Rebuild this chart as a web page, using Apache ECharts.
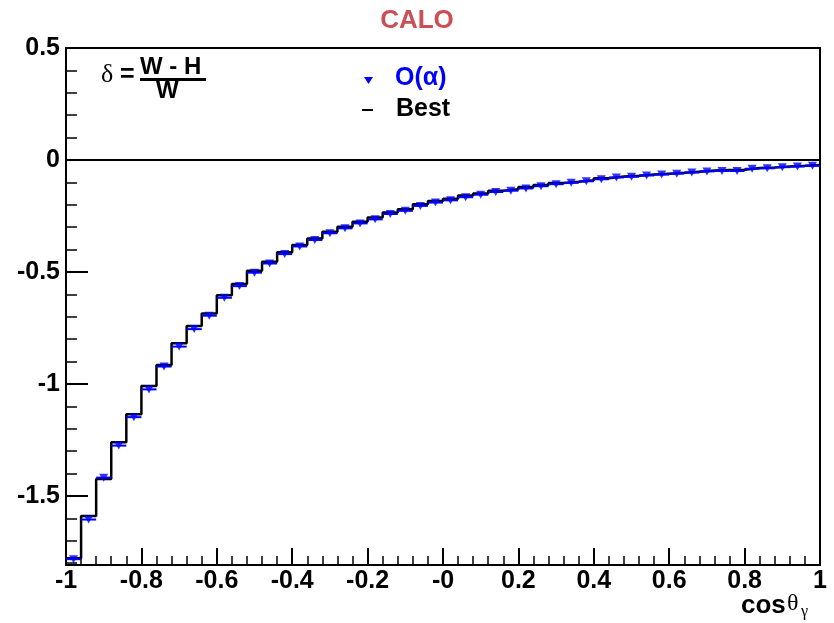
<!DOCTYPE html>
<html><head><meta charset="utf-8">
<script src="https://cdn.jsdelivr.net/npm/echarts@6/dist/echarts.min.js"></script>
<style>html,body{margin:0;padding:0;background:#fff}#c{width:834px;height:623px}</style>
</head><body><div id="c"></div>
<script>
// Histogram binning: 50 bins of width 0.04 from -1 to 1
const binLow = -1;
const binWidth = 0.04;
// "Best" histogram contents (delta per bin)
const bestValues = [
  -1.778, -1.589, -1.424, -1.260, -1.135, -1.009, -0.915, -0.818, -0.741, -0.685,
  -0.604, -0.554, -0.494, -0.454, -0.412, -0.379, -0.350, -0.320, -0.298, -0.276,
  -0.257, -0.234, -0.220, -0.198, -0.183, -0.173, -0.159, -0.149, -0.137, -0.131,
  -0.121, -0.112, -0.103, -0.097, -0.090, -0.081, -0.074, -0.070, -0.065, -0.061,
  -0.057, -0.052, -0.047, -0.045, -0.043, -0.036, -0.033, -0.029, -0.026, -0.022
];
// "O(alpha)" points (delta per bin)
const oAlphaValues = [
  -1.782, -1.605, -1.418, -1.275, -1.148, -1.024, -0.922, -0.833, -0.755, -0.695,
  -0.615, -0.563, -0.503, -0.462, -0.420, -0.386, -0.357, -0.327, -0.305, -0.283,
  -0.265, -0.241, -0.227, -0.205, -0.190, -0.180, -0.166, -0.155, -0.143, -0.137,
  -0.127, -0.117, -0.108, -0.102, -0.095, -0.086, -0.078, -0.075, -0.069, -0.065,
  -0.061, -0.056, -0.051, -0.049, -0.049, -0.039, -0.037, -0.032, -0.029, -0.026
];
const xTickLabels = ['-1', '-0.8', '-0.6', '-0.4', '-0.2', '-0', '0.2', '0.4', '0.6', '0.8', '1'];
const yTickValues = [-1.5, -1, -0.5, 0, 0.5];
const yTickLabels = ['-1.5', '-1', '-0.5', '0', '0.5'];
const yMinorTickValues = [-1.8, -1.7, -1.6, -1.4, -1.3, -1.2, -1.1, -0.9, -0.8, -0.7, -0.6,
  -0.4, -0.3, -0.2, -0.1, 0.1, 0.2, 0.3, 0.4];
const yMin = -1.808, yMax = 0.5;

const FONT = "'Liberation Sans', Arial, Helvetica, sans-serif";
const SERIF = "'Liberation Serif', 'DejaVu Serif', serif";

const bestData = bestValues.map((v, i) => [binLow + i * binWidth, v]);
bestData.push([binLow + bestValues.length * binWidth, bestValues[bestValues.length - 1]]);
const pointData = oAlphaValues.map((v, i) => [binLow + (i + 0.5) * binWidth, v]);

const chart = echarts.init(document.getElementById('c'), null, {renderer: 'canvas'});

function txt(x, y, text, opts) {
  return Object.assign({
    type: 'text', x: x, y: y, silent: true, z: 100,
    style: Object.assign({
      text: text, fill: '#000', align: 'left', textAlign: 'left',
      verticalAlign: 'top', textVerticalAlign: 'top',
      fontFamily: FONT, fontWeight: 'bold', fontSize: 24
    }, opts || {})
  });
}

const option = {
  animation: false,
  backgroundColor: '#fff',
  title: {
    text: 'CALO', left: 'center', top: 3,
    textStyle: {color: '#cc4f55', fontFamily: FONT, fontWeight: 'bold', fontSize: 26}
  },
  grid: {left: 66, right: 14, top: 48, bottom: 58, show: true, borderColor: '#000', borderWidth: 2, backgroundColor: 'transparent'},
  xAxis: {
    type: 'value', min: -1, max: 1, interval: 0.2,
    axisLine: {show: true, onZero: false, lineStyle: {color: '#000', width: 2}},
    axisTick: {show: true, inside: true, length: 17, lineStyle: {color: '#000', width: 2}},
    minorTick: {show: true, splitNumber: 5, length: 9, lineStyle: {color: '#000', width: 1.5}},
    splitLine: {show: false},
    axisLabel: {
      margin: 4, color: '#000', fontFamily: FONT, fontWeight: 'bold', fontSize: 25,
      formatter: v => xTickLabels[Math.round((v - binLow) / 0.2)]
    }
  },
  yAxis: [{
    type: 'value', min: yMin, max: yMax,
    axisLine: {show: true, onZero: false, lineStyle: {color: '#000', width: 2}},
    axisTick: {show: true, inside: true, length: 22, customValues: yTickValues, lineStyle: {color: '#000', width: 2}},
    splitLine: {show: false},
    axisLabel: {
      margin: 6, color: '#000', fontFamily: FONT, fontWeight: 'bold', fontSize: 25,
      customValues: yTickValues,
      formatter: v => { const i = yTickValues.findIndex(t => Math.abs(t - v) < 1e-6); return i >= 0 ? yTickLabels[i] : ''; }
    }
  }, {
    type: 'value', min: yMin, max: yMax, position: 'left',
    axisLine: {show: false, onZero: false},
    axisTick: {show: true, inside: true, length: 11, customValues: yMinorTickValues, lineStyle: {color: '#000', width: 1.5}},
    axisLabel: {show: false, customValues: yMinorTickValues},
    splitLine: {show: false}
  }],
  series: [{
    name: 'Best', type: 'line', step: 'end', data: bestData, yAxisIndex: 0,
    symbol: 'none', lineStyle: {color: '#000', width: 2.5}, z: 3,
    markLine: {
      silent: true, symbol: 'none', label: {show: false},
      lineStyle: {color: '#000', width: 2, type: 'solid'},
      data: [{yAxis: 0}]
    }
  }, {
    name: 'O(α) bars', type: 'custom', data: pointData, yAxisIndex: 0, z: 4,
    renderItem: (params, api) => {
      const x = api.value(0), y = api.value(1);
      const p1 = api.coord([x - binWidth / 2, y]);
      const p2 = api.coord([x + binWidth / 2, y]);
      return {type: 'line', shape: {x1: p1[0], y1: p1[1], x2: p2[0], y2: p2[1]},
        style: {stroke: '#0000ff', lineWidth: 2}};
    }
  }, {
    name: 'O(α)', type: 'scatter', data: pointData, yAxisIndex: 0, z: 5,
    symbol: 'triangle', symbolRotate: 180, symbolSize: [9, 8],
    itemStyle: {color: '#0000ff'}
  }],
  graphic: [
    txt(101, 62, 'δ', {fontFamily: SERIF, fontWeight: 'normal', fontSize: 26}),
    txt(120, 63, '=', {fontSize: 25}),
    txt(140, 55, 'W - H', {fontSize: 24}),
    {type: 'rect', shape: {x: 140, y: 78, width: 66, height: 3}, style: {fill: '#000'}, silent: true, z: 100},
    txt(156, 79, 'W', {fontSize: 24}),
    {type: 'polygon', shape: {points: [[364, 77], [373, 77], [368.5, 84]]}, style: {fill: '#0000ff'}, silent: true, z: 100},
    txt(395, 66, 'O(α)', {fill: '#0000ff', fontSize: 25}),
    {type: 'rect', shape: {x: 362, y: 109, width: 11, height: 2}, style: {fill: '#000'}, silent: true, z: 100},
    txt(396, 97, 'Best', {fontSize: 25}),
    txt(741, 593, 'cos', {fontSize: 26}),
    txt(787, 592, 'θ', {fontFamily: SERIF, fontWeight: 'normal', fontSize: 24}),
    txt(801, 604, 'γ', {fontFamily: SERIF, fontWeight: 'normal', fontSize: 16})
  ]
};
chart.setOption(option);
</script>
</body></html>
